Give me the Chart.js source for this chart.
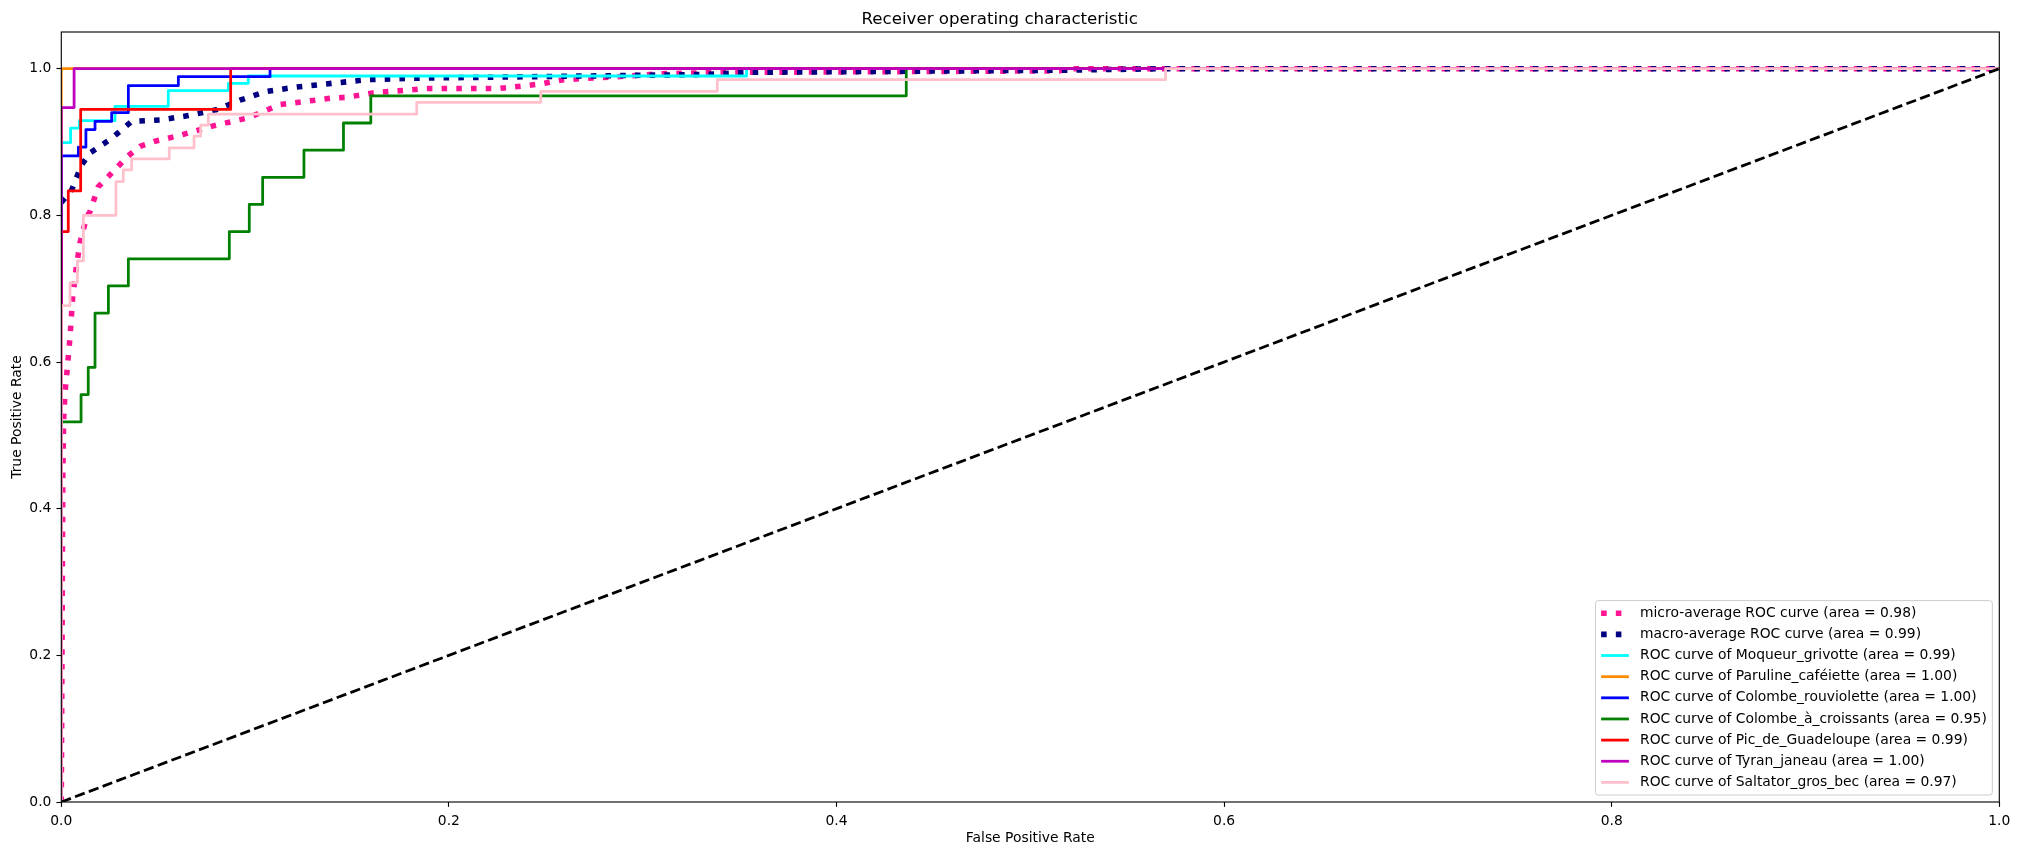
<!DOCTYPE html>
<html>
<head>
<meta charset="utf-8">
<script src="https://cdn.jsdelivr.net/npm/chart.js@4.4.0/dist/chart.umd.min.js"></script>
<style>
  html, body { margin: 0; padding: 0; background: #fff; }
  #wrap { width: 2019px; height: 855px; }
</style>
</head>
<body>
<div id="wrap"><canvas id="roc" width="2019" height="855"></canvas></div>
<script>
"use strict";

var chartTitle = 'Receiver operating characteristic';
var xTitle = 'False Positive Rate';
var yTitle = 'True Positive Rate';
var xTicks = [0, 0.2, 0.4, 0.6, 0.8, 1.0];
var yTicks = [0, 0.2, 0.4, 0.6, 0.8, 1.0];

var classNames = ['Moqueur_grivotte', 'Paruline_caféiette', 'Colombe_rouviolette',
  'Colombe_à_croissants', 'Pic_de_Guadeloupe', 'Tyran_janeau', 'Saltator_gros_bec'];
var classAuc = [0.99, 1.00, 1.00, 0.95, 0.99, 1.00, 0.97];
var microAuc = 0.98;
var macroAuc = 0.99;

var microFpr = [0, 0.0008, 0.0012, 0.0019, 0.0033, 0.0045, 0.0059, 0.0076, 0.0096, 0.0131, 0.0148, 0.0191,
  0.0243, 0.0294, 0.034, 0.0406, 0.0483, 0.0612, 0.0784, 0.0965, 0.1128, 0.140, 0.1473, 0.161, 0.1885,
  0.226, 0.247, 0.259, 0.2866, 0.309, 0.326, 0.353, 0.515, 0.52, 1];
var microTpr = [0, 0.45, 0.52, 0.557, 0.598, 0.634, 0.689, 0.726, 0.762, 0.798, 0.805, 0.839,
  0.853, 0.867, 0.880, 0.894, 0.901, 0.909, 0.922, 0.933, 0.951, 0.960, 0.961, 0.967, 0.973,
  0.973, 0.979, 0.985, 0.989, 0.993, 0.994, 0.995, 0.997, 1.0, 1.0];

var macroFpr = [0, 0.0054, 0.0105, 0.0148, 0.026, 0.0363, 0.051, 0.0655, 0.080, 0.0922, 0.106, 0.1215,
  0.136, 0.1507, 0.158, 0.182, 0.33, 0.355, 0.52, 0.57, 1];
var macroTpr = [0.8176, 0.835, 0.869, 0.885, 0.905, 0.928, 0.930, 0.936, 0.944, 0.957, 0.969, 0.975,
  0.979, 0.983, 0.985, 0.987, 0.992, 0.995, 0.998, 1.0, 1.0];

var moqueurFpr = [0, 0, 0.0048, 0.0048, 0.0093, 0.0093, 0.0277, 0.0277, 0.0552, 0.0552, 0.0862, 0.0862,
  0.0965, 0.0965, 0.3536, 0.3536, 1];
var moqueurTpr = [0, 0.899, 0.899, 0.919, 0.919, 0.929, 0.929, 0.9486, 0.9486, 0.970, 0.970, 0.980,
  0.980, 0.990, 0.990, 1, 1];

var parulineFpr = [0, 0, 1];
var parulineTpr = [0, 1, 1];

var rouvioletteFpr = [0, 0, 0.0088, 0.0088, 0.0127, 0.0127, 0.0174, 0.0174, 0.026, 0.026, 0.0346, 0.0346,
  0.0604, 0.0604, 0.1077, 0.1077, 1];
var rouvioletteTpr = [0, 0.881, 0.881, 0.893, 0.893, 0.917, 0.917, 0.928, 0.928, 0.940, 0.940, 0.977,
  0.977, 0.989, 0.989, 1, 1];

var croissantsFpr = [0, 0, 0.0102, 0.0102, 0.0139, 0.0139, 0.0174, 0.0174, 0.0243, 0.0243, 0.0346, 0.0346,
  0.0867, 0.0867, 0.097, 0.097, 0.1039, 0.1039, 0.1252, 0.1252, 0.1456, 0.1456, 0.1597, 0.1597, 0.436, 0.436, 1];
var croissantsTpr = [0, 0.5185, 0.5185, 0.5556, 0.5556, 0.5926, 0.5926, 0.6667, 0.6667, 0.7037, 0.7037, 0.7407,
  0.7407, 0.7778, 0.7778, 0.8148, 0.8148, 0.8519, 0.8519, 0.8889, 0.8889, 0.9259, 0.9259, 0.963, 0.963, 1, 1];

var picFpr = [0, 0, 0.0036, 0.0036, 0.010, 0.010, 0.0874, 0.0874, 1];
var picTpr = [0, 0.7778, 0.7778, 0.8333, 0.8333, 0.9444, 0.9444, 1, 1];

var tyranFpr = [0, 0, 0.0066, 0.0066, 1];
var tyranTpr = [0, 0.947, 0.947, 1, 1];

var saltatorFpr = [0, 0, 0.0045, 0.0045, 0.0083, 0.0083, 0.0114, 0.0114, 0.0282, 0.0282, 0.032, 0.032,
  0.0363, 0.0363, 0.0557, 0.0557, 0.0685, 0.0685, 0.0719, 0.0719, 0.0759, 0.0759, 0.1834, 0.1834,
  0.2474, 0.2474, 0.3385, 0.3385, 0.5698, 0.5698, 1];
var saltatorTpr = [0, 0.677, 0.677, 0.708, 0.708, 0.738, 0.738, 0.800, 0.800, 0.846, 0.846, 0.862,
  0.862, 0.877, 0.877, 0.892, 0.892, 0.908, 0.908, 0.923, 0.923, 0.938, 0.938, 0.954,
  0.954, 0.969, 0.969, 0.985, 0.985, 1, 1];

var chanceFpr = [0, 1];
var chanceTpr = [0, 1];

var classFpr = [moqueurFpr, parulineFpr, rouvioletteFpr, croissantsFpr, picFpr, tyranFpr, saltatorFpr];
var classTpr = [moqueurTpr, parulineTpr, rouvioletteTpr, croissantsTpr, picTpr, tyranTpr, saltatorTpr];
var classColors = ['#00ffff', '#ff8c00', '#0000ff', '#008000', '#ff0000', '#bf00bf', '#ffc0cb'];

// matplotlib sizes at 100 dpi
var PT = 100 / 72;
var FONT = 'DejaVu Sans';
var FS = 10 * PT;
var LW = 2 * PT;
var DOT_LW = 4 * PT;

function points(fpr, tpr) {
  return fpr.map(function(x, i) { return { x: x, y: tpr[i] }; });
}

function curve(label, fpr, tpr, color, width, dash) {
  return {
    label: label,
    data: points(fpr, tpr),
    borderColor: color,
    backgroundColor: color,
    borderWidth: width,
    borderDash: dash || [],
    borderCapStyle: dash ? 'butt' : 'square',
    borderJoinStyle: 'round',
    pointRadius: 0,
    fill: false,
    tension: 0,
    clip: 0
  };
}

var datasets = [];
datasets.push(curve('micro-average ROC curve (area = ' + microAuc.toFixed(2) + ')',
  microFpr, microTpr, '#ff1493', DOT_LW, [DOT_LW, 1.65 * DOT_LW]));
datasets.push(curve('macro-average ROC curve (area = ' + macroAuc.toFixed(2) + ')',
  macroFpr, macroTpr, '#000080', DOT_LW, [DOT_LW, 1.65 * DOT_LW]));
classNames.forEach(function(name, i) {
  datasets.push(curve('ROC curve of ' + name + ' (area = ' + classAuc[i].toFixed(2) + ')',
    classFpr[i], classTpr[i], classColors[i], LW));
});
datasets.push(curve(null, chanceFpr, chanceTpr, '#000000', LW, [3.7 * LW, 1.6 * LW]));

// later curves sit on top, like matplotlib
datasets.forEach(function(d, i) { d.order = datasets.length - i; });

var frame = {
  id: 'frame',
  afterDatasetsDraw: function(chart) {
    var a = chart.chartArea, ctx = chart.ctx;
    ctx.save();
    ctx.strokeStyle = '#000';
    ctx.lineWidth = 0.8 * PT;
    ctx.strokeRect(a.left, a.top, a.right - a.left, a.bottom - a.top);
    ctx.restore();
  }
};

var boxLegend = {
  id: 'boxLegend',
  afterDraw: function(chart) {
    var ctx = chart.ctx, a = chart.chartArea;
    var items = chart.data.datasets.filter(function(d) { return d.label; });
    var pad = 0.4 * FS, handleLen = 2 * FS, textPad = 0.8 * FS, gap = 0.5 * FS, axPad = 0.5 * FS;
    var textH = 14.2;
    ctx.save();
    ctx.font = FS + 'px "' + FONT + '"';
    var textW = Math.max.apply(null, items.map(function(d) { return ctx.measureText(d.label).width; }));
    var w = 2 * pad + handleLen + textPad + textW;
    var h = 2 * pad + items.length * textH + (items.length - 1) * gap;
    var x = a.right - axPad - w, y = a.bottom - axPad - h;

    ctx.beginPath();
    ctx.roundRect(x, y, w, h, 0.2 * FS);
    ctx.fillStyle = 'rgba(255,255,255,0.8)';
    ctx.fill();
    ctx.strokeStyle = '#cccccc';
    ctx.lineWidth = 1;
    ctx.stroke();

    items.forEach(function(d, i) {
      var cy = y + pad + textH / 2 + i * (textH + gap);
      ctx.beginPath();
      ctx.setLineDash(d.borderDash);
      ctx.lineCap = 'butt';
      ctx.strokeStyle = d.borderColor;
      ctx.lineWidth = d.borderWidth;
      ctx.moveTo(x + pad, cy);
      ctx.lineTo(x + pad + handleLen, cy);
      ctx.stroke();
      ctx.setLineDash([]);
      ctx.fillStyle = '#000';
      ctx.textBaseline = 'middle';
      ctx.textAlign = 'left';
      ctx.fillText(d.label, x + pad + handleLen + textPad, cy);
    });
    ctx.restore();
  }
};

Chart.defaults.font.family = FONT;
Chart.defaults.font.size = FS;
Chart.defaults.color = '#000';

function axis(min, max, tickValues, title, isX) {
  return {
    type: 'linear',
    min: min,
    max: max,
    afterBuildTicks: function(scale) {
      scale.ticks = tickValues.map(function(v) { return { value: v }; });
    },
    afterFit: function(scale) {
      if (isX) scale.height = 53; else scale.width = 61.3;
    },
    ticks: {
      padding: isX ? 6 : 5,
      autoSkip: false,
      maxRotation: 0,
      callback: function(v) { return Number(v).toFixed(1); }
    },
    grid: {
      display: true,
      drawOnChartArea: false,
      drawTicks: true,
      tickLength: 3.5 * PT,
      tickWidth: 0.8 * PT,
      tickColor: '#000',
      color: '#000'
    },
    border: { display: false },
    title: {
      display: true,
      text: title,
      color: '#000',
      font: { size: FS },
      padding: isX ? { top: 0, bottom: 8 } : { top: 8.7, bottom: 0 }
    }
  };
}

new Chart(document.getElementById('roc'), {
  type: 'line',
  data: { datasets: datasets },
  options: {
    responsive: false,
    animation: false,
    devicePixelRatio: 1,
    layout: { padding: { left: 0, right: 19.7, top: 0, bottom: 0 } },
    plugins: {
      legend: { display: false },
      tooltip: { enabled: false },
      title: {
        display: true,
        text: chartTitle,
        color: '#000',
        font: { size: 12 * PT, weight: 'normal' },
        padding: { top: 9.5, bottom: 2.5 }
      }
    },
    scales: {
      x: axis(0, 1, xTicks, xTitle, true),
      y: axis(0, 1.05, yTicks, yTitle, false)
    }
  },
  plugins: [frame, boxLegend]
});
</script>
</body>
</html>
